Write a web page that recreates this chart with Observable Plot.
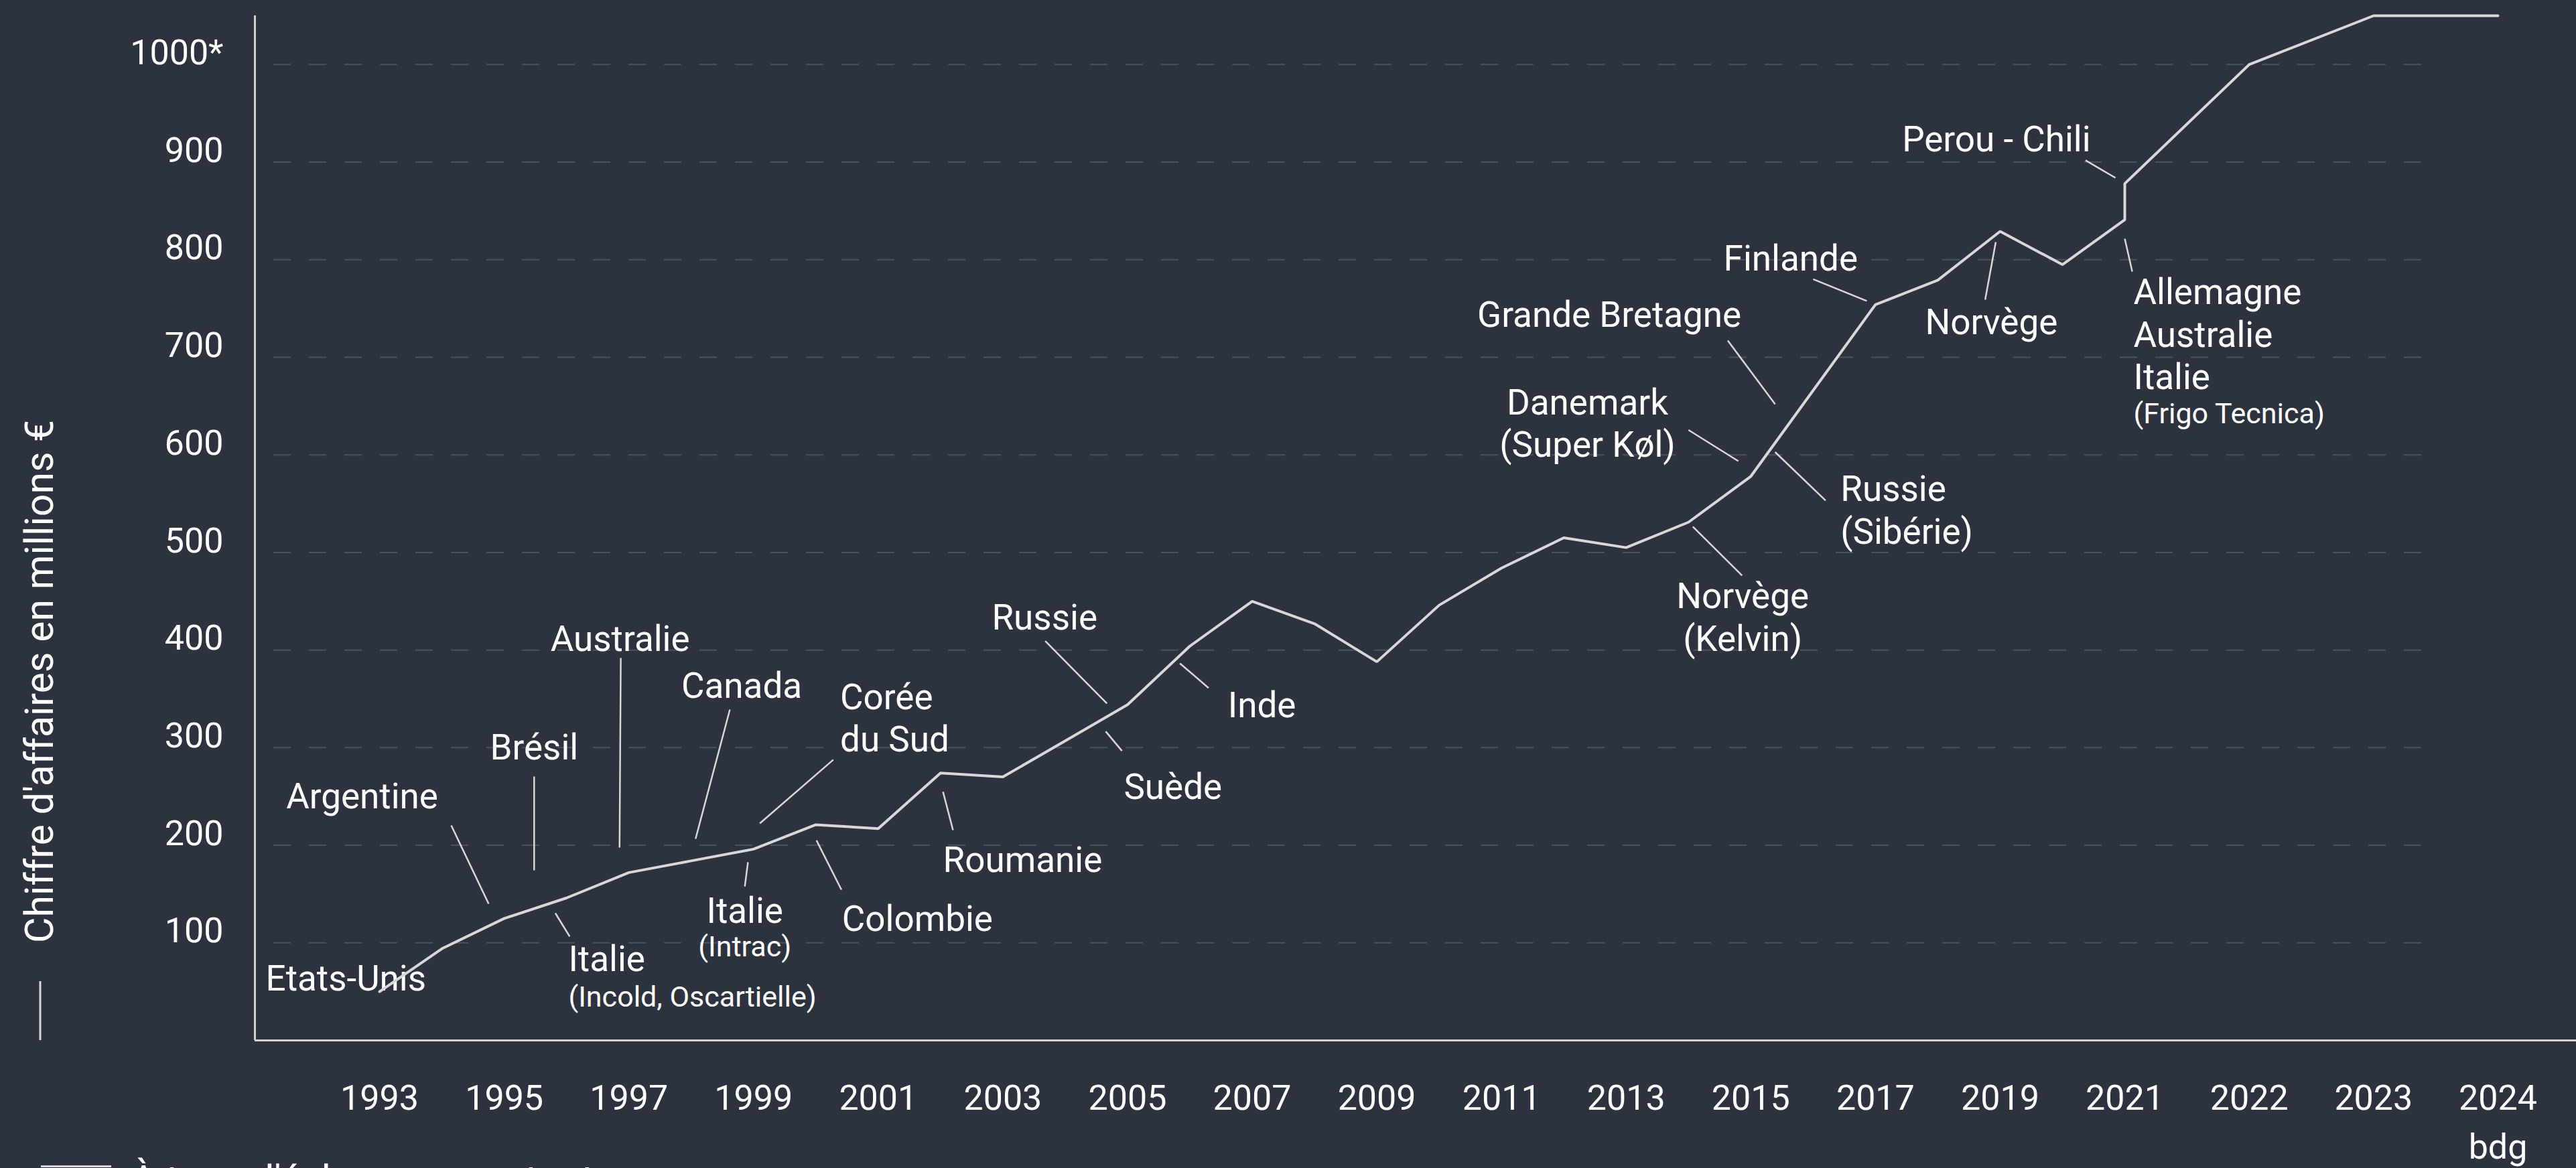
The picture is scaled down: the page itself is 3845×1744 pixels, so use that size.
<!DOCTYPE html>
<html>
<head>
<meta charset="utf-8">
<script src="https://cdn.jsdelivr.net/npm/d3@7"></script>
<script src="https://cdn.jsdelivr.net/npm/@observablehq/plot@0.6"></script>
<style>
  html, body { margin: 0; padding: 0; background: #2d333e; overflow: hidden; }
  #wrap { position: relative; width: 3845px; height: 1744px; font-family: Roboto, sans-serif; color: #ffffff; }
  #wrap svg { display: block; max-width: none; }
  #legendSwatch { position: absolute; left: 61px; top: 1740px; width: 105px; height: 3px; background: #d8d8d8; }
  #legendText { position: absolute; left: 195px; top: 1732px; font-size: 59px; line-height: 1; white-space: nowrap; color: #ffffff; }
</style>
</head>
<body>
<div id="wrap"></div>
<script>
// ---- Data ----
const years = [1993, 1994, 1995, 1996, 1997, 1998, 1999, 2000, 2001, 2002,
               2003, 2004, 2005, 2006, 2007, 2008, 2009, 2010, 2011, 2012,
               2013, 2014, 2015, 2016, 2017, 2018, 2019, 2020, 2021, 2021,
               2022, 2023, 2024];
const revenue = [50, 94, 125, 146, 172, 184, 196, 221, 217, 274,
                 270, 307, 344, 404, 450, 427, 388, 446, 484, 515,
                 505, 531, 578, 666, 754, 779, 829, 795, 841, 878,
                 1000, 1050, 1050];

const yTicks = [100, 200, 300, 400, 500, 600, 700, 800, 900, 1000];
const yTickLabels = ["100", "200", "300", "400", "500", "600", "700", "800", "900", "1000*"];

const xTicks = [1993, 1995, 1997, 1999, 2001, 2003, 2005, 2007, 2009, 2011,
                2013, 2015, 2017, 2019, 2021, 2022, 2023, 2024];
const xTickLabels = ["1993", "1995", "1997", "1999", "2001", "2003", "2005", "2007", "2009", "2011",
                     "2013", "2015", "2017", "2019", "2021", "2022", "2023", "2024\nbdg"];

// Annotations: [text, year, value]
const labelsCentered = [
  ["Etats-Unis", 1992.46, 50.8],
  ["Argentine", 1992.72, 238.1],
  ["Brésil", 1995.48, 288.2],
  ["Australie", 1996.86, 399.4],
  ["Canada", 1998.81, 350.7],
  ["Italie", 1998.86, 120.1],
  ["Russie", 2003.67, 420.7],
  ["Norvège\n(Kelvin)", 2014.87, 399.4],
  ["Danemark\n(Super Køl)", 2012.38, 597.8],
  ["Grande Bretagne", 2012.73, 730.9],
  ["Finlande", 2015.64, 788.6],
  ["Norvège", 2018.86, 723.4],
  ["Perou - Chili", 2018.94, 910.7]
];
const labelsLeft = [
  ["Corée\ndu Sud", 2000.39, 295.8],
  ["Italie", 1996.03, 70.7],
  ["Colombie", 2000.42, 111.9],
  ["Roumanie", 2002.04, 172.9],
  ["Suède", 2004.94, 247.1],
  ["Inde", 2006.61, 330.8],
  ["Russie\n(Sibérie)", 2016.44, 509.2],
  ["Allemagne\nAustralie\nItalie", 2021.07, 667.1]
];
const notesCentered = [
  ["(Intrac)", 1998.86, 85.8]
];
const notesLeft = [
  ["(Incold, Oscartielle)", 1996.03, 35.0],
  ["(Frigo Tecnica)", 2021.07, 632.1]
];
// Leader lines: [year1, value1, year2, value2]
const leaders = [
  [1994.15, 220.3, 1994.75, 140.0],
  [1995.48, 270.4, 1995.48, 174.3],
  [1996.87, 391.9, 1996.85, 197.7],
  [1998.62, 339.0, 1998.07, 206.6],
  [2000.28, 287.6, 1999.10, 222.4],
  [1998.91, 182.6, 1998.86, 157.8],
  [1995.82, 130.4, 1996.05, 106.4],
  [2000.01, 204.9, 2000.41, 154.4],
  [2002.04, 254.8, 2002.20, 215.5],
  [2003.68, 409.2, 2004.67, 345.2],
  [2004.65, 316.6, 2004.91, 296.7],
  [2005.84, 386.4, 2006.30, 361.2],
  [2014.07, 526.4, 2014.86, 476.3],
  [2014.00, 625.5, 2014.80, 593.6],
  [2014.63, 717.2, 2015.39, 652.0],
  [2015.39, 602.9, 2016.20, 553.2],
  [2016.00, 780.0, 2016.86, 757.7],
  [2018.93, 818.1, 2018.76, 759.0],
  [2020.37, 901.8, 2020.85, 883.9],
  [2021.00, 821.5, 2021.06, 787.9]
];

const yTitle = "Chiffre d'affaires en millions €";
const bottomNote = "À taux d'échange constant";

// ---- Chart ----
const W = 3845, H = 1744;
const xDomain = [1991, 2021, 2024.63];
const xRange = [380, 3171, 3845];
const points = years.map((year, i) => ({year, value: revenue[i]}));
const lineColor = "#d8d8d8";

const textOpts = (anchor, size) => ({
  x: d => d[1], y: d => d[2], text: d => d[0],
  textAnchor: anchor, lineAnchor: "bottom", lineHeight: 1.2,
  fontSize: size, fill: "#ffffff"
});

const chart = Plot.plot({
  width: W,
  height: H,
  marginLeft: 380,
  marginRight: 0,
  marginTop: 23,
  marginBottom: 191,
  style: {background: "#2d333e", color: "#ffffff", fontFamily: "Roboto, sans-serif", overflow: "visible"},
  x: {type: "linear", domain: xDomain, range: xRange},
  y: {type: "linear", domain: [0, 1050], range: [1553, 23]},
  marks: [
    Plot.gridY(yTicks, {stroke: "#4b525e", strokeOpacity: 1, strokeWidth: 2, strokeDasharray: "26,27", insetLeft: 28, insetRight: 209}),
    Plot.ruleY([0], {stroke: "#d0d0d0", strokeWidth: 3}),
    Plot.ruleX([xDomain[0]], {stroke: "#d0d0d0", strokeWidth: 3}),
    Plot.axisY(yTicks, {
      tickSize: 0, tickPadding: 47, fontSize: 52, dy: -17, label: null, fill: "#ffffff",
      tickFormat: (d) => yTickLabels[yTicks.indexOf(d)]
    }),
    Plot.axisX(xTicks, {
      tickSize: 0, tickPadding: 52, fontSize: 52, lineHeight: 1.4, label: null, fill: "#ffffff",
      tickFormat: (d) => xTickLabels[xTicks.indexOf(d)]
    }),
    Plot.link(leaders, {x1: d => d[0], y1: d => d[1], x2: d => d[2], y2: d => d[3], stroke: lineColor, strokeWidth: 2.5}),
    Plot.text(labelsCentered, textOpts("middle", 53)),
    Plot.text(labelsLeft, textOpts("start", 53)),
    Plot.text(notesCentered, textOpts("middle", 43)),
    Plot.text(notesLeft, textOpts("start", 43)),
    Plot.line(points, {x: "year", y: "value", stroke: lineColor, strokeWidth: 4, strokeLinejoin: "miter"})
  ]
});

// Rotated legend / axis title on the left
const svg = d3.select(chart);
svg.append("line")
  .attr("x1", 60).attr("x2", 60).attr("y1", 1465).attr("y2", 1553)
  .attr("stroke", lineColor).attr("stroke-width", 3);
svg.append("text")
  .attr("transform", "translate(79,1408) rotate(-90)")
  .attr("fill", "#ffffff")
  .attr("font-size", 59)
  .attr("font-family", "Roboto, sans-serif")
  .attr("text-anchor", "start")
  .text(yTitle);

const wrap = document.getElementById("wrap");
wrap.appendChild(chart);
const sw = document.createElement("div");
sw.id = "legendSwatch";
wrap.appendChild(sw);
const lt = document.createElement("div");
lt.id = "legendText";
lt.textContent = bottomNote;
wrap.appendChild(lt);
</script>
</body>
</html>
